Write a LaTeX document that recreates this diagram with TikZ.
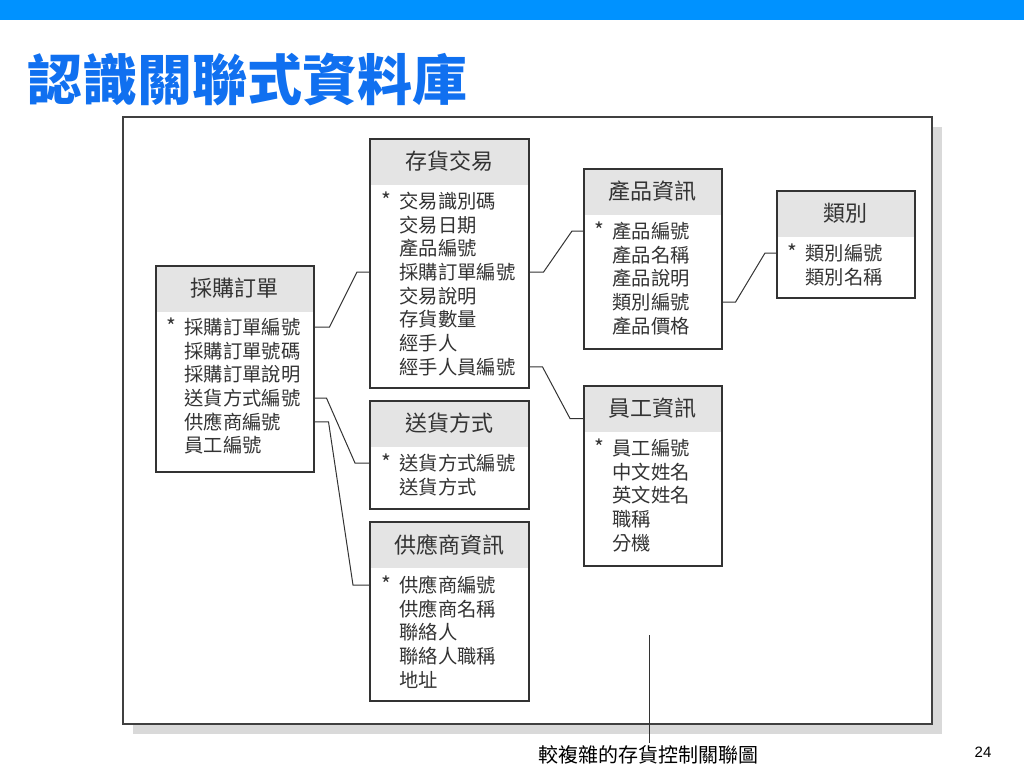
\documentclass[tikz,border=0pt]{standalone}
\usepackage{fontspec}
\setmainfont{Noto Sans CJK TC}
\newfontfamily\numfont{Liberation Sans}
\usetikzlibrary{calc}
\definecolor{cbar}{HTML}{0092FF}
\definecolor{ctitle}{HTML}{1070F0}
\definecolor{cline}{HTML}{333333}
\definecolor{chead}{HTML}{E4E4E4}
\definecolor{cshade}{HTML}{D9D9D9}
\definecolor{cframe}{HTML}{404040}
\tikzset{
  every picture/.style={x=1pt, y=-1pt, line width=1pt},
  tbl/.style={draw=cline, line width=1.5pt, anchor=north west, inner sep=0pt},
  tblhead/.style={fill=chead, anchor=north west, inner sep=0pt, minimum height=46, text=cline, font=\fontsize{22}{24}\selectfont},
  row/.style={anchor=west, inner sep=0pt, text=cline, font=\fontsize{19.3}{22}\selectfont},
  key/.style={anchor=base east, inner sep=0pt, text=cline, font=\fontsize{21}{22}\selectfont},
  link/.style={draw=cline, line width=1pt},
}

\begin{document}
\begin{tikzpicture}
  \useasboundingbox (0,0) rectangle (1024,768);
  % slide
  \fill[cbar] (0,0) rectangle (1024,20);
  \node[anchor=west, inner sep=0pt, text=ctitle, font=\fontsize{55}{60}\selectfont\bfseries] (title) at (27,79) {認識關聯式資料庫};
  \fill[cshade] (133,127) rectangle (942,734);
  \draw[draw=cframe, fill=white, line width=2pt] (123,117) rectangle (932,724);
  % 採購訂單
  \node[tblhead, minimum width=158] (poh) at (155,265) {採購訂單};
  \node[tbl, minimum width=158, minimum height=206] (po) at (155,265) {};
  \foreach \t [count=\i] in {採購訂單編號, 採購訂單號碼, 採購訂單說明, 送貨方式編號, 供應商編號, 員工編號} {
    \node[row] (po\i) at (184, {303.3+23.7*\i}) {\t};
  }
  \node[key] (pokey) at ([xshift=-7]po1.base west) {*};
  % 存貨交易
  \node[tblhead, minimum width=159] (invh) at (369,138) {存貨交易};
  \node[tbl, minimum width=159, minimum height=249] (inv) at (369,138) {};
  \foreach \t [count=\i] in {交易識別碼, 交易日期, 產品編號, 採購訂單編號, 交易說明, 存貨數量, 經手人, 經手人員編號} {
    \node[row] (inv\i) at (399, {177.3+23.7*\i}) {\t};
  }
  \node[key] (invkey) at ([xshift=-7]inv1.base west) {*};
  % 送貨方式
  \node[tblhead, minimum width=159] (shiph) at (369,400) {送貨方式};
  \node[tbl, minimum width=159, minimum height=108] (ship) at (369,400) {};
  \foreach \t [count=\i] in {送貨方式編號, 送貨方式} {
    \node[row] (ship\i) at (399, {439.3+23.7*\i}) {\t};
  }
  \node[key] (shipkey) at ([xshift=-7]ship1.base west) {*};
  % 供應商資訊
  \node[tblhead, minimum width=159] (suph) at (369,521) {供應商資訊};
  \node[tbl, minimum width=159, minimum height=179] (sup) at (369,521) {};
  \foreach \t [count=\i] in {供應商編號, 供應商名稱, 聯絡人, 聯絡人職稱, 地址} {
    \node[row] (sup\i) at (399, {561.3+23.7*\i}) {\t};
  }
  \node[key] (supkey) at ([xshift=-7]sup1.base west) {*};
  % 產品資訊
  \node[tblhead, minimum width=138] (prodh) at (583,168) {產品資訊};
  \node[tbl, minimum width=138, minimum height=180] (prod) at (583,168) {};
  \foreach \t [count=\i] in {產品編號, 產品名稱, 產品說明, 類別編號, 產品價格} {
    \node[row] (prod\i) at (612, {207.3+23.7*\i}) {\t};
  }
  \node[key] (prodkey) at ([xshift=-7]prod1.base west) {*};
  % 員工資訊
  \node[tblhead, minimum width=138] (emph) at (583,385) {員工資訊};
  \node[tbl, minimum width=138, minimum height=180] (emp) at (583,385) {};
  \foreach \t [count=\i] in {員工編號, 中文姓名, 英文姓名, 職稱, 分機} {
    \node[row] (emp\i) at (612, {424.3+23.7*\i}) {\t};
  }
  \node[key] (empkey) at ([xshift=-7]emp1.base west) {*};
  % 類別
  \node[tblhead, minimum width=138] (cath) at (776,190) {類別};
  \node[tbl, minimum width=138, minimum height=107] (cat) at (776,190) {};
  \foreach \t [count=\i] in {類別編號, 類別名稱} {
    \node[row] (cat\i) at (805, {229.3+23.7*\i}) {\t};
  }
  \node[key] (catkey) at ([xshift=-7]cat1.base west) {*};
  % relations
  \draw[link] (po.east |- po1) -- ++(15,0) -- ($(inv.west |- inv4)+(-12,0)$) -- (inv.west |- inv4);
  \draw[link] (po.east |- po4) -- ++(12,0) -- ($(ship.west |- ship1)+(-14,0)$) -- (ship.west |- ship1);
  \draw[link] (po.east |- po5) -- ++(14,0) -- ($(sup.west |- sup1)+(-16,0)$) -- (sup.west |- sup1);
  \draw[link] (inv.east |- inv4) -- ++(14,0) -- ($(prod.west |- prod1)+(-11,0)$) -- (prod.west |- prod1);
  \draw[link] (inv.east |- inv8) -- ++(13,0) -- ($(emph.west)+(-13,10)$) -- ($(emph.west)+(0,10)$);
  \draw[link] (prod.east |- prod4) -- ++(13,0) -- ($(cat.west |- cat1)+(-11,0)$) -- (cat.west |- cat1);
  % caption
  \node[inner sep=2pt, font=\fontsize{20}{22}\selectfont] (cap) at (648,755) {較複雜的存貨控制關聯圖};
  \coordinate (lead) at (649,635);
  \draw[link] (lead) -- (lead |- cap.north);
  \node[inner sep=0pt, font=\numfont\fontsize{15}{18}\selectfont] (page) at (983,752.5) {24};
\end{tikzpicture}
\end{document}
